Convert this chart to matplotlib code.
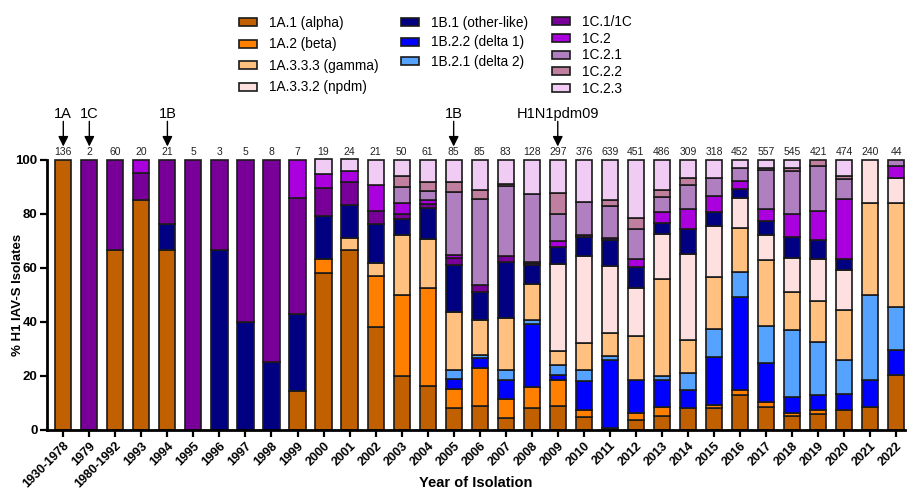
import matplotlib
matplotlib.use('Agg')
import matplotlib.pyplot as plt
from matplotlib.patches import Patch
import numpy as np

plt.rcParams['font.family'] = ['Liberation Sans', 'DejaVu Sans']

years = ['1930-1978', '1979', '1980-1992', '1993', '1994', '1995', '1996', '1997', '1998',
         '1999', '2000', '2001', '2002', '2003', '2004', '2005', '2006', '2007', '2008',
         '2009', '2010', '2011', '2012', '2013', '2014', '2015', '2016', '2017', '2018',
         '2019', '2020', '2021', '2022']
counts = [136, 2, 60, 20, 21, 5, 3, 5, 8, 7, 19, 24, 21, 50, 61, 85, 85, 83, 128, 297,
          376, 639, 451, 486, 309, 318, 452, 557, 545, 421, 474, 240, 44]

# percentages per clade, stacked bottom -> top in this order
a1 = [100, 0, 66.7, 85, 66.7, 0, 0, 0, 0, 14.3, 57.9, 66.7, 38.1, 20, 16.4, 8.2, 8.9, 4.3, 8.0,
      9.0, 4.9, 0.6, 3.7, 5.3, 8.0, 8.0, 13.0, 8.6, 5.3, 5.9, 7.4, 8.3, 20.5]
a2 = [0, 0, 0, 0, 0, 0, 0, 0, 0, 0, 5.3, 0, 19.0, 30, 36.1, 7.1, 13.9, 7.2, 7.7,
      9.3, 2.3, 0, 2.7, 3.1, 0, 1.3, 1.8, 1.6, 0.9, 1.5, 0, 0, 0]
d1 = [0, 0, 0, 0, 0, 0, 0, 0, 0, 0, 0, 0, 0, 0, 0, 3.5, 3.7, 7.0, 23.6,
      2.1, 10.9, 25.3, 12.1, 9.9, 6.6, 17.6, 34.3, 14.7, 5.8, 5.6, 5.8, 10.0, 9.0]
d2 = [0, 0, 0, 0, 0, 0, 0, 0, 0, 0, 0, 0, 0, 0, 0, 3.5, 1.3, 3.7, 1.4,
      3.7, 4.1, 1.5, 0, 1.5, 6.6, 10.4, 9.3, 13.7, 25.0, 19.5, 12.5, 31.7, 16.0]
gamma = [0, 0, 0, 0, 0, 0, 0, 0, 0, 0, 0, 4.2, 4.8, 22, 18.0, 21.2, 12.7, 19.2, 13.4,
         5.2, 9.9, 8.4, 16.1, 36.0, 11.9, 19.2, 16.3, 24.4, 13.9, 15.3, 18.7, 34.0, 38.6]
npdm = [0, 0, 0, 0, 0, 0, 0, 0, 0, 0, 0, 0, 0, 0, 0, 0, 0, 0, 0,
        32.1, 32.3, 24.7, 18.1, 16.8, 32.0, 19.1, 11.3, 9.2, 12.7, 15.5, 14.9, 16.0, 9.1]
b1 = [0, 0, 0, 0, 9.5, 0, 66.7, 40, 25, 28.6, 15.8, 12.5, 14.3, 6, 11.5, 17.6, 10.7, 20.7, 7.0,
      6.3, 7.0, 9.9, 7.5, 3.9, 9.3, 4.9, 3.3, 5.0, 7.8, 7.1, 3.9, 0, 0]
c1 = [0, 100, 33.3, 10, 23.8, 100, 33.3, 60, 75, 42.8, 10.5, 8.3, 4.8, 2, 1.6, 2.4, 2.5, 2.1, 0.6,
      0, 0.8, 0.8, 0, 0, 0, 0, 0, 0, 0, 0, 0, 0, 0]
c2 = [0, 0, 0, 5, 0, 0, 0, 0, 0, 14.3, 5.3, 4.2, 9.5, 4, 1.6, 1.2, 0, 0, 0.4,
      2.4, 0, 0, 3.0, 4.0, 7.3, 6.2, 2.7, 4.5, 8.6, 10.7, 22.2, 0, 4.5]
c21 = [0, 0, 0, 0, 0, 0, 0, 0, 0, 0, 0, 0, 0, 6, 3.3, 23.5, 31.9, 25.9, 25.2,
       9.8, 12.1, 11.5, 11.2, 5.7, 8.8, 6.5, 4.9, 14.6, 15.9, 16.7, 7.4, 0, 2.3]
c22 = [0, 0, 0, 0, 0, 0, 0, 0, 0, 0, 0, 0, 0, 4, 3.3, 3.5, 3.3, 0.9, 0,
       7.8, 0, 2.5, 4.2, 2.7, 2.7, 0, 0, 0.7, 1.0, 2.2, 1.3, 0, 0]
c23 = [0, 0, 0, 0, 0, 0, 0, 0, 0, 0, 5.3, 4.2, 9.5, 6, 8.2, 8.2, 11.1, 9.0, 12.7,
       12.3, 15.7, 14.8, 21.4, 11.1, 6.8, 6.8, 3.1, 3.0, 3.1, 0, 5.9, 0, 0]

series = [
    ('1A.1 (alpha)', a1, '#C06000'),
    ('1A.2 (beta)', a2, '#FF8000'),
    ('1B.2.2 (delta 1)', d1, '#0000FF'),
    ('1B.2.1 (delta 2)', d2, '#55A2FF'),
    ('1A.3.3.3 (gamma)', gamma, '#FFC080'),
    ('1A.3.3.2 (npdm)', npdm, '#FFE0E0'),
    ('1B.1 (other-like)', b1, '#000080'),
    ('1C.1/1C', c1, '#780098'),
    ('1C.2', c2, '#AA00DD'),
    ('1C.2.1', c21, '#B07FC0'),
    ('1C.2.2', c22, '#C07F9F'),
    ('1C.2.3', c23, '#F0CCF5'),
]
colors = {name: col for name, _, col in series}

fig = plt.figure(figsize=(9.07, 4.93), dpi=100)
ax = fig.add_axes([0.052, 0.128, 0.946, 0.548])

x = np.arange(len(years))
bottom = np.zeros(len(years))
for name, vals, col in series:
    vals = np.array(vals, dtype=float)
    for i in range(len(years)):
        if vals[i] > 0:
            ax.bar(x[i], vals[i], bottom=bottom[i], width=0.62, color=col,
                   edgecolor='#1a1a1a', linewidth=1.2, clip_on=False)
    bottom += vals

# counts above bars
for i, n in enumerate(counts):
    ax.text(x[i], 100.9, str(n), ha='center', va='bottom', fontsize=7.5, color='#222222')

# arrows marking introductions
arrows = [(0, '1A'), (1, '1C'), (4, '1B'), (15, '1B'), (19, 'H1N1pdm09')]
for i, lab in arrows:
    ax.annotate('', xy=(x[i], 104.9), xytext=(x[i], 114.2),
                arrowprops=dict(arrowstyle='-|>', color='black', lw=1, mutation_scale=15,
                                shrinkA=0, shrinkB=0),
                annotation_clip=False)
    ax.text(x[i], 115.6, lab, ha='center', va='baseline', fontsize=10.5)

ax.set_xlim(-0.62, 32.35)
ax.set_ylim(0, 100)
ax.set_yticks([0, 20, 40, 60, 80, 100])
ax.set_xticks(x)
ax.set_xticklabels(years, rotation=45, ha='right', rotation_mode='anchor', fontweight='bold', fontsize=9)
for t in ax.get_yticklabels():
    t.set_fontweight('bold')
    t.set_fontsize(9.5)
ax.tick_params(axis='both', width=1.6, length=5, direction='out', pad=2)
ax.spines['top'].set_visible(False)
ax.spines['right'].set_visible(False)
ax.spines['left'].set_linewidth(2)
ax.spines['bottom'].set_linewidth(2)
ax.set_ylabel('% H1 IAV-S Isolates', fontweight='bold', fontsize=9.5)
ax.yaxis.set_label_coords(-0.027, 0.5)
ax.set_xlabel('Year of Isolation', fontweight='bold', fontsize=10.5)
ax.xaxis.set_label_coords(0.5, -0.172)

def make_handles(names):
    return [Patch(facecolor=colors[n], edgecolor='#1a1a1a', linewidth=1.2) for n in names]

col1 = ['1A.1 (alpha)', '1A.2 (beta)', '1A.3.3.3 (gamma)', '1A.3.3.2 (npdm)']
col2 = ['1B.1 (other-like)', '1B.2.2 (delta 1)', '1B.2.1 (delta 2)']
col3 = ['1C.1/1C', '1C.2', '1C.2.1', '1C.2.2', '1C.2.3']
for names, xpos, ytop, spacing in [(col1, 239, 16, 0.55), (col2, 401, 16, 0.4), (col3, 552, 15, 0.2)]:
    fig.legend(make_handles(names), names, loc='upper left',
               bbox_to_anchor=(xpos / 907, 1 - ytop / 493), frameon=False, fontsize=9.8,
               handlelength=1.3, handleheight=0.55, handletextpad=0.9,
               labelspacing=spacing, borderpad=0, borderaxespad=0)

fig.savefig('out.png', dpi=100)
